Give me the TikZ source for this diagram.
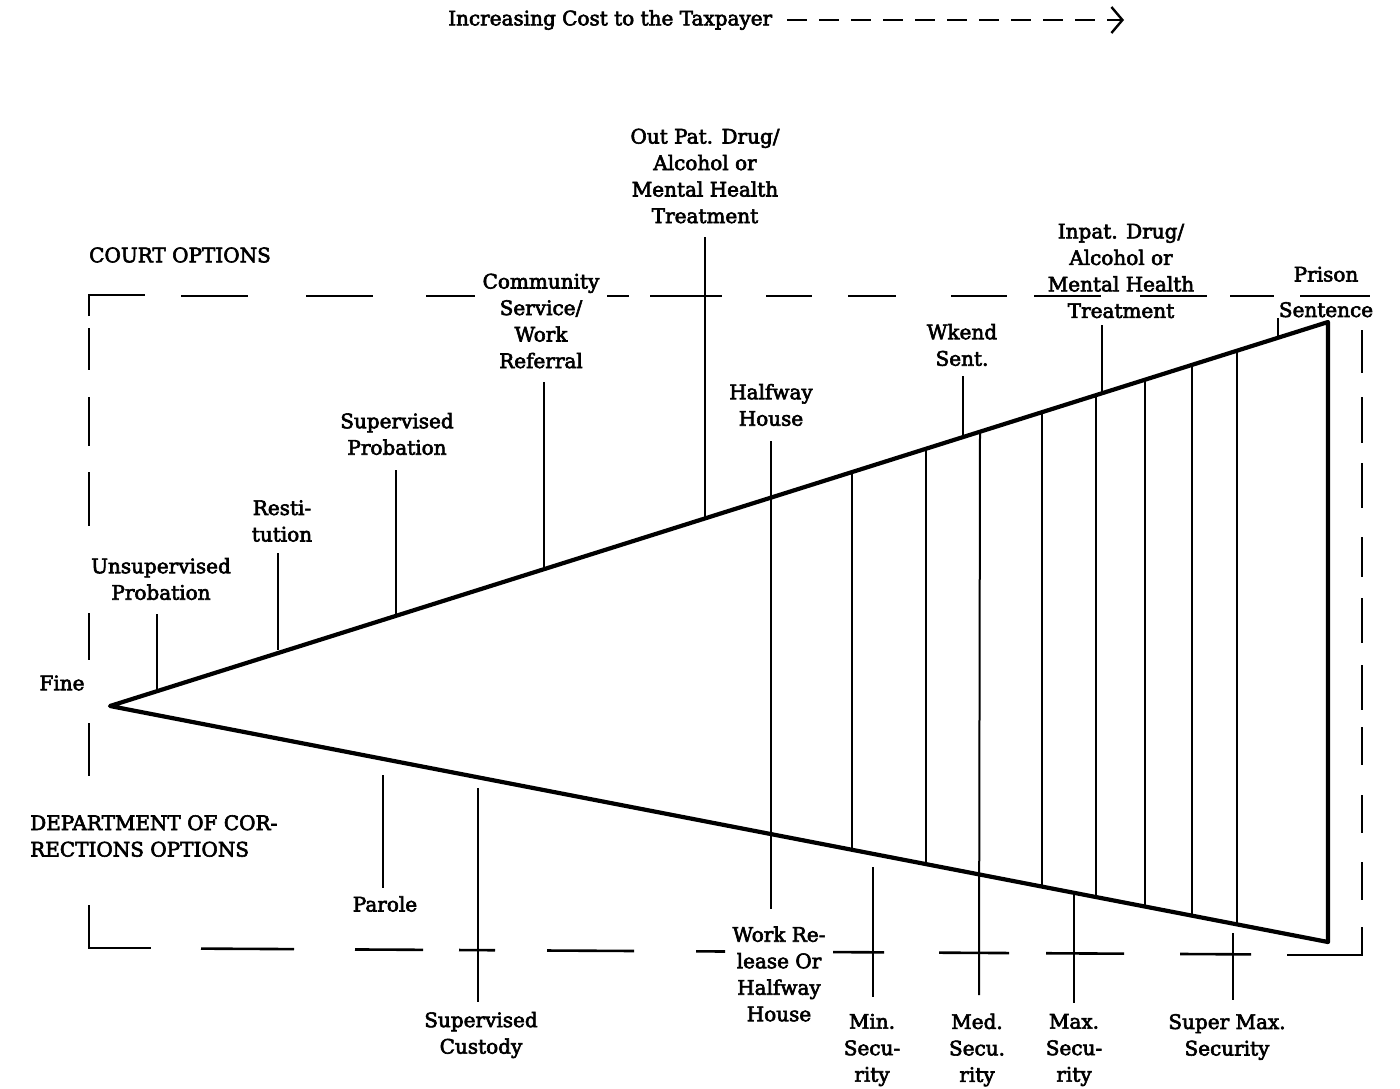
\documentclass[tikz,border=0pt]{standalone}
\usepackage{fontspec}
\setmainfont{DejaVu Serif}[FakeBold=3]
\usetikzlibrary{arrows.meta}
\begin{document}
\begin{tikzpicture}[x=1pt,y=-1pt,
  lbl/.style={align=center,inner sep=0pt,font=\fontsize{20}{26.5}\selectfont},
  edgeln/.style={line width=4.2pt,line join=round,line cap=round},
  tickln/.style={line width=2pt},
  boxln/.style={line width=2.6pt},
  costarrow/.style={line width=2.4pt,dash pattern=on 20pt off 12pt,-{Straight Barb[length=11pt,width=26pt,line width=2.4pt]}}]
\useasboundingbox (0,0) rectangle (1400,1088);
% title and arrow
\node[lbl,anchor=west] (title) at (448,20) {Increasing Cost to the Taxpayer};
\coordinate (arrs) at (787,20);
\coordinate (arre) at (1124,20);
\draw[costarrow] (arrs) -- (arre);
% labels
\node[lbl,anchor=west] (court) at (89,255) {COURT OPTIONS};
\node[lbl] (outpat) at (705,176) {Out Pat. Drug/\\Alcohol or\\Mental Health\\Treatment};
\node[lbl] (community) at (541,321) {Community\\Service/\\Work\\Referral};
\node[lbl] (inpat) at (1121,271) {Inpat. Drug/\\Alcohol or\\Mental Health\\Treatment};
\node[lbl] (prison) at (1326,292) {Prison\\[9pt]Sentence};
\node[lbl] (wkend) at (962,345) {Wkend\\Sent.};
\node[lbl] (halfway) at (771,405) {Halfway\\House};
\node[lbl] (supprob) at (397,434) {Supervised\\Probation};
\node[lbl] (restit) at (282,521) {Resti-\\tution};
\node[lbl] (unsup) at (161,579) {Unsupervised\\Probation};
\node[lbl] (fine) at (62,683) {Fine};
\node[lbl,anchor=west,align=left] (doc) at (30,836) {DEPARTMENT OF COR-\\RECTIONS OPTIONS};
\node[lbl] (parole) at (385,904) {Parole};
\node[lbl] (workrel) at (779,974) {Work Re-\\lease Or\\Halfway\\House};
\node[lbl] (supcust) at (481,1035) {Supervised\\Custody};
\node[lbl] (minsec) at (872,1050) {Min.\\Secu-\\rity};
\node[lbl] (medsec) at (977,1050) {Med.\\Secu.\\rity};
\node[lbl] (maxsec) at (1074,1050) {Max.\\Secu-\\rity};
\node[lbl] (supermax) at (1227,1037) {Super Max.\\Security};
% triangle
\coordinate (apex) at (110,706);
\coordinate (tr) at (1328,322);
\coordinate (br) at (1328,942);
\draw[edgeln] (tr) -- (apex) -- (br) -- cycle;
% partition lines inside the triangle
\foreach \x/\yu/\yl in {852/472.1/849.8, 926/448.7/864.1, 1042/412.2/886.6, 1096/395.1/897.0, 1145/379.7/906.5, 1192/364.9/915.6, 1237/350.7/924.4}
  \draw[tickln] (\x,\yu) -- (\x,\yl);
% upper option ticks
\coordinate (tUnsupA) at (157,614); \coordinate (tUnsupB) at (157,689);
\draw[tickln] (tUnsupA) -- (tUnsupB);
\coordinate (tRestA) at (278,553); \coordinate (tRestB) at (278,650);
\draw[tickln] (tRestA) -- (tRestB);
\coordinate (tSupA) at (396,470); \coordinate (tSupB) at (396,614);
\draw[tickln] (tSupA) -- (tSupB);
\coordinate (tComA) at (544,382); \coordinate (tComB) at (544,568);
\draw[tickln] (tComA) -- (tComB);
\coordinate (tOutA) at (705,237); \coordinate (tOutB) at (705,517);
\draw[tickln] (tOutA) -- (tOutB);
\coordinate (tWkA) at (963,376); \coordinate (tWkB) at (963,436);
\draw[tickln] (tWkA) -- (tWkB);
\coordinate (tInA) at (1102,325); \coordinate (tInB) at (1102,392);
\draw[tickln] (tInA) -- (tInB);
\coordinate (tPrA) at (1278,318); \coordinate (tPrB) at (1278,337);
\draw[tickln] (tPrA) -- (tPrB);
% halfway line through the triangle
\coordinate (tHwA) at (771,441); \coordinate (tHwB) at (771,909);
\draw[tickln] (tHwA) -- (tHwB);
% Med. security line through
\coordinate (tMedA) at (980,431.7); \coordinate (tMedB) at (979,995);
\draw[tickln] (tMedA) -- (tMedB);
% lower ticks
\coordinate (tParA) at (383,775); \coordinate (tParB) at (383,888);
\draw[tickln] (tParA) -- (tParB);
\coordinate (tCusA) at (478,788); \coordinate (tCusB) at (478,1002);
\draw[tickln] (tCusA) -- (tCusB);
\coordinate (tMinA) at (873,867); \coordinate (tMinB) at (873,997);
\draw[tickln] (tMinA) -- (tMinB);
\coordinate (tMaxA) at (1074,892.8); \coordinate (tMaxB) at (1074,1003);
\draw[tickln] (tMaxA) -- (tMaxB);
\coordinate (tSmA) at (1233,933); \coordinate (tSmB) at (1233,1000);
\draw[tickln] (tSmA) -- (tSmB);
% dashed box: top
\draw[boxln] (89,316) -- (89,295) -- (145,295);
\foreach \a/\b in {181/248, 306/373, 426/475, 607/629, 650/722, 766/812, 848/896, 951/1007, 1034/1101, 1140/1207, 1230/1274, 1300/1370}
  \draw[boxln] (\a,296) -- (\b,296);
% left
\foreach \a/\b in {328/370, 397/446, 472/526, 613/660, 723/776}
  \draw[boxln] (89,\a) -- (89,\b);
\draw[boxln] (89,905) -- (89,948) -- (151,948);
% bottom
\foreach \a/\b in {201/294, 355/423, 459/495, 547/634, 696/725, 833/884, 939/1009, 1046/1124, 1180/1251}
  \draw[boxln] (\a,{948+0.0055*(\a-90)}) -- (\b,{948+0.0055*(\b-90)});
\draw[boxln] (1287,955) -- (1362,955) -- (1362,927);
% right
\foreach \a/\b in {330/373, 397/443, 463/508, 537/577, 598/643, 665/710, 727/765, 795/833, 862/900}
  \draw[boxln] (1362,\a) -- (1362,\b);
\end{tikzpicture}
\end{document}
